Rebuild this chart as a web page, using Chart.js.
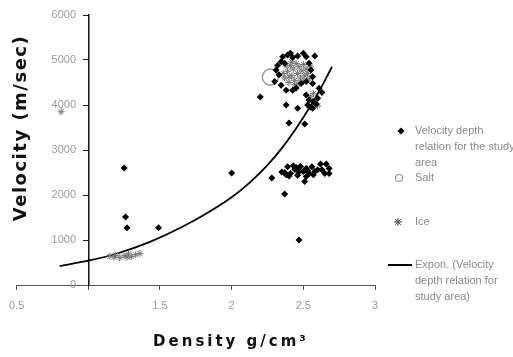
<!DOCTYPE html>
<html>
<head>
<meta charset="utf-8">
<script src="https://cdn.jsdelivr.net/npm/chart.js@4/dist/chart.umd.min.js"></script>
<style>
html,body{margin:0;padding:0;background:#fff;}
#wrap{position:relative;width:513px;height:357px;}
</style>
</head>
<body>
<div id="wrap"><canvas id="c" width="513" height="357"></canvas></div>
<script>
// ---- data ----
const xTicks = [0.5, 1, 1.5, 2, 2.5, 3];
const yTicks = [0, 1000, 2000, 3000, 4000, 5000, 6000];

const velocityPoints = [
  [1.25,2600],[1.26,1510],[1.27,1270],[1.49,1270],[2.0,2490],[2.28,2380],[2.37,2020],[2.47,1000],
  [2.20,4180],[2.38,4000],[2.46,3930],[2.40,3600],[2.51,3580],
  [2.37,2500],[2.39,2630],[2.41,2480],[2.44,2570],[2.46,2440],[2.48,2640],[2.50,2520],[2.52,2590],
  [2.52,2410],[2.51,2300],[2.54,2480],[2.56,2630],[2.58,2520],[2.60,2560],[2.62,2690],[2.66,2690],
  [2.68,2590],[2.68,2480],[2.65,2480],[2.43,2650],[2.40,2420],[2.47,2520],[2.38,2450],[2.53,2540],
  [2.35,2510],[2.45,2610],[2.57,2450],[2.63,2560],
  [2.52,4220],[2.54,4110],[2.53,4000],[2.565,3930],[2.60,4150],[2.61,4370],[2.57,4070],[2.55,3950],
  [2.59,4020],[2.63,4280],
  [2.356,5070],[2.39,5110],[2.426,5060],[2.46,5090],[2.52,5070],[2.345,4960],[2.54,4930],[2.553,4780],
  [2.565,4630],[2.565,4480],[2.31,4780],[2.30,4520],[2.345,4440],[2.38,4330],[2.426,4330],[2.484,4480],
  [2.52,4520],[2.37,4930],[2.33,4670],[2.50,5150],[2.41,5150],[2.58,5090],[2.32,4880],[2.45,4380]
];

const saltPoints = [[2.27,4620]];

const icePoints = [
  [0.81,3850],
  [1.15,640],[1.19,660],[1.22,610],[1.25,650],[1.28,690],[1.30,630],[1.33,670],[1.36,700],[1.18,620],[1.27,620],
  [2.37,4600],[2.39,4750],[2.40,4500],[2.41,4880],[2.42,4650],[2.43,4800],[2.44,4550],[2.45,4920],[2.46,4700],
  [2.47,4850],[2.48,4600],[2.49,4760],[2.50,4900],[2.51,4650],[2.52,4800],[2.53,4700],[2.54,4580],[2.44,4450],
  [2.38,4870],[2.50,4520],[2.42,4960],[2.55,4850],[2.36,4700],[2.47,4480],[2.40,4620],
  [2.45,2540],[2.48,2570],[2.50,2550],[2.53,2580],[2.47,2510],
  [2.58,4100],[2.55,4180],[2.60,3980],[2.57,4250]
];

const trendPoints = [
  [0.8,420],[1.0,540],[1.2,700],[1.43,960],[1.66,1300],[1.85,1640],[2.0,1950],[2.12,2260],
  [2.24,2630],[2.36,3080],[2.5,3720],[2.62,4360],[2.7,4850]
];

const legendLabels = [
  ["Velocity depth", "relation for the study", "area"],
  ["Salt"],
  ["Ice"],
  ["Expon. (Velocity", "depth relation for", "study area)"]
];
const xTitle = "Density g/cm\u00B3";
const yTitle = "Velocity (m/sec)";

const toXY = a => a.map(p => ({x: p[0], y: p[1]}));

const overlay = {
  id: 'overlay',
  afterDraw(chart) {
    const ctx = chart.ctx;
    ctx.save();
    ctx.fillStyle = '#111';
    ctx.textAlign = 'center';
    ctx.textBaseline = 'middle';
    ctx.save();
    ctx.font = 'bold 18px "DejaVu Sans"';
    ctx.translate(21, 128);
    ctx.rotate(-Math.PI / 2);
    ctx.letterSpacing = '1.5px';
    ctx.fillText(yTitle, 0, 0);
    ctx.restore();
    ctx.save();
    ctx.font = 'bold 15px "DejaVu Sans"';
    ctx.letterSpacing = '3px';
    ctx.fillText(xTitle, 231, 342);
    ctx.restore();

    ctx.font = '11px "Liberation Sans"';
    ctx.textAlign = 'left';
    ctx.textBaseline = 'middle';
    const tx = 415;
    ctx.fillStyle = '#000';
    ctx.beginPath();
    ctx.moveTo(401, 127.5); ctx.lineTo(404.5, 131); ctx.lineTo(401, 134.5); ctx.lineTo(397.5, 131); ctx.closePath();
    ctx.fill();
    ctx.strokeStyle = '#999'; ctx.lineWidth = 1.2;
    ctx.beginPath(); ctx.arc(399, 178, 3.5, 0, Math.PI * 2); ctx.stroke();
    ctx.strokeStyle = '#444'; ctx.lineWidth = 1;
    ctx.beginPath();
    for (let k = 0; k < 4; k++) {
      const a = k * Math.PI / 4;
      ctx.moveTo(398 - 4 * Math.cos(a), 222 - 4 * Math.sin(a));
      ctx.lineTo(398 + 4 * Math.cos(a), 222 + 4 * Math.sin(a));
    }
    ctx.stroke();
    ctx.strokeStyle = '#000'; ctx.lineWidth = 2;
    ctx.beginPath(); ctx.moveTo(388, 265); ctx.lineTo(412, 265); ctx.stroke();

    ctx.fillStyle = '#8a8a8a';
    const starts = [131, 178, 222, 265];
    legendLabels.forEach((lines, i) => {
      lines.forEach((t, j) => ctx.fillText(t, tx, starts[i] + j * 16));
    });
    ctx.restore();
  }
};

new Chart(document.getElementById('c'), {
  type: 'scatter',
  data: {
    datasets: [
      {
        label: legendLabels[0].join(' '),
        data: toXY(velocityPoints),
        pointStyle: 'rectRot', pointRadius: 3.5,
        backgroundColor: '#000', borderColor: '#000', borderWidth: 0
      },
      {
        label: legendLabels[1][0],
        data: toXY(saltPoints),
        pointStyle: 'circle', pointRadius: 8,
        backgroundColor: 'rgba(0,0,0,0)', borderColor: '#999', borderWidth: 1.5
      },
      {
        label: legendLabels[2][0],
        data: toXY(icePoints),
        pointStyle: 'star', pointRadius: 3.5,
        backgroundColor: '#777', borderColor: '#777', borderWidth: 1
      },
      {
        type: 'line',
        label: legendLabels[3].join(' '),
        data: toXY(trendPoints),
        borderColor: '#000', borderWidth: 1.8,
        pointRadius: 0, cubicInterpolationMode: 'monotone', fill: false
      }
    ]
  },
  options: {
    responsive: false,
    animation: false,
    layout: { padding: { left: 16, right: 138, top: 15, bottom: 42 } },
    plugins: { legend: { display: false }, tooltip: { enabled: false } },
    scales: {
      x: {
        type: 'linear', min: 0.5, max: 3,
        afterBuildTicks: s => { s.ticks = xTicks.map(v => ({value: v})); },
        afterFit: s => { s.height = 30; },
        grid: { display: true, drawOnChartArea: false, drawTicks: true, tickLength: 5, color: '#444' },
        border: { display: true, color: '#555', width: 1 },
        ticks: {
          color: '#9a9a9a', padding: 9, maxRotation: 0,
          font: { family: '"Liberation Sans"', size: 11 },
          callback: v => (v === 1 ? '' : String(v))
        }
      },
      y: {
        type: 'linear', min: 0, max: 6000,
        position: { x: 1 },
        afterBuildTicks: s => { s.ticks = yTicks.map(v => ({value: v})); },
        grid: { display: true, drawOnChartArea: false, drawTicks: true, tickLength: 5, color: '#222' },
        border: { display: true, color: '#111', width: 1.5 },
        ticks: {
          color: '#9a9a9a', padding: 8,
          font: { family: '"Liberation Sans"', size: 11 },
          callback: v => String(v) + '    '
        }
      }
    }
  },
  plugins: [overlay]
});
</script>
</body>
</html>
